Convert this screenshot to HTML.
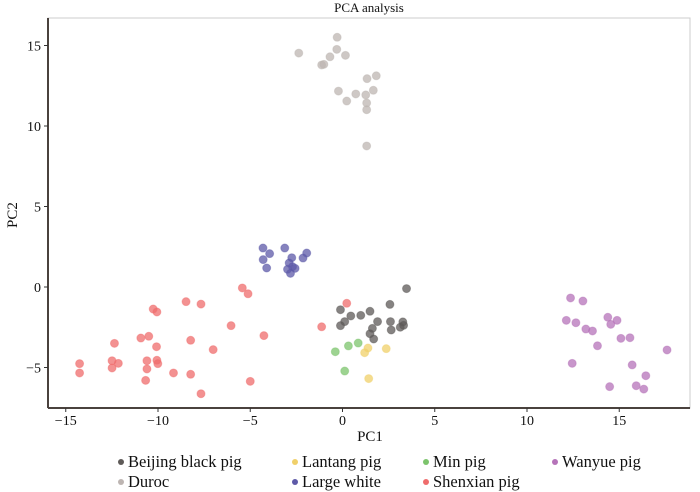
<!DOCTYPE html>
<html><head><meta charset="utf-8"><style>
body{margin:0;background:#fff;font-family:"Liberation Serif",serif;}
svg{display:block}
text{font-family:"Liberation Serif",serif;fill:#111}
</style></head><body>
<svg id="chart" width="700" height="492"></svg>
<script>
const groups = ["Beijing black pig","Lantang pig","Min pig","Wanyue pig","Duroc","Large white","Shenxian pig"];
const colors = ["#5e5a58","#f0d06a","#7cc46c","#b573b9","#bdb5b2","#5e5aa8","#ef6c6c"];
const beijingX=[3.47,2.57,-0.11,0.45,0.99,1.49,0.12,-0.11,1.90,1.62,1.49,1.69,2.60,2.64,3.27,3.31,3.13];
const beijingY=[-0.1,-1.08,-1.41,-1.80,-1.76,-1.51,-2.15,-2.40,-2.15,-2.57,-2.90,-3.23,-2.15,-2.67,-2.17,-2.38,-2.50];
const lantangX=[1.38,1.20,2.37,1.42];
const lantangY=[-3.79,-4.08,-3.83,-5.69];
const minX=[-0.39,0.32,0.85,0.12];
const minY=[-4.02,-3.66,-3.48,-5.22];
const wanyueX=[12.36,13.03,12.13,12.65,13.19,13.55,14.38,14.88,14.54,13.82,15.09,15.58,17.59,12.45,15.70,16.44,14.48,15.92,16.33];
const wanyueY=[-0.68,-0.87,-2.07,-2.22,-2.61,-2.73,-1.88,-2.07,-2.32,-3.65,-3.19,-3.15,-3.91,-4.74,-4.84,-5.51,-6.19,-6.13,-6.34];
const durocX=[-0.29,-2.37,-0.31,-0.68,0.16,-1.13,-1.01,1.33,1.83,-0.22,0.72,1.26,1.67,0.23,1.31,1.31,1.31];
const durocY=[15.51,14.53,14.76,14.30,14.39,13.79,13.83,12.94,13.12,12.17,11.99,11.93,12.22,11.55,11.43,11.01,8.76];
const largeX=[-4.31,-3.95,-3.13,-4.30,-4.11,-2.75,-1.94,-2.14,-2.89,-2.71,-2.98,-2.57,-2.82];
const largeY=[2.42,2.07,2.42,1.70,1.18,1.82,2.11,1.80,1.49,1.26,1.10,1.16,0.85];
const shenX=[-14.25,-14.25,-12.36,-12.49,-12.15,-12.49,-10.93,-10.50,-10.08,-10.60,-10.06,-10.01,-10.60,-10.67,-10.26,-10.06,-8.48,-7.67,-8.23,-7.01,-9.16,-8.23,-7.67,-6.04,-5.43,-5.12,-4.26,-5.00,-1.13,0.23];
const shenY=[-4.76,-5.34,-3.50,-4.58,-4.74,-5.03,-3.17,-3.06,-3.71,-4.58,-4.55,-4.76,-5.09,-5.80,-1.37,-1.55,-0.91,-1.06,-3.31,-3.89,-5.34,-5.42,-6.63,-2.40,-0.06,-0.42,-3.02,-5.86,-2.47,-1.01];
const xTicks=[-15,-10,-5,0,5,10,15];
const yTicks=[-5,0,5,10,15];

const NS="http://www.w3.org/2000/svg";
const svg=document.getElementById('chart');
const L=48,R=690,T=18,B=408;
function sx(v){return 342.5+v*18.45;}
function sy(v){return 287-v*16.1;}
function mk(tag,attrs,parent){const e=document.createElementNS(NS,tag);for(const k in attrs)e.setAttribute(k,attrs[k]);(parent||svg).appendChild(e);return e;}

const frame=mk('rect',{x:L,y:T,width:R-L,height:B-T,fill:'none',stroke:'#ccc','stroke-width':1});


const la=mk('line',{x1:L,y1:T,x2:L,y2:B,stroke:'#4a423e','stroke-width':2});


const ba=mk('line',{x1:L,y1:B,x2:R,y2:B,stroke:'#4a423e','stroke-width':2});



xTicks.forEach(v=>{
  const t=mk('line',{x1:sx(v),y1:B,x2:sx(v),y2:B+4,stroke:'#333'});
  
  
  const l=mk('text',{x:sx(v),y:B+17,'text-anchor':'middle','font-size':14});
  l.textContent=(v<0?'\u2212'+(-v):v);
  
  
});
yTicks.forEach(v=>{
  const t=mk('line',{x1:L-4,y1:sy(v),x2:L,y2:sy(v),stroke:'#333'});
  
  
  const l=mk('text',{x:L-7,y:sy(v)+5,'text-anchor':'end','font-size':14});
  l.textContent=(v<0?'\u2212'+(-v):v);
  
  
});
const title=mk('text',{x:369,y:12,'text-anchor':'middle','font-size':13});
title.textContent='PCA analysis';


const xt=mk('text',{x:370,y:441,'text-anchor':'middle','font-size':15});
xt.textContent='PC1';


const yt=mk('text',{x:17,y:215,'text-anchor':'middle','font-size':15,transform:'rotate(-90 17 215)'});
yt.textContent='PC2';



const series=[[beijingX,beijingY],[lantangX,lantangY],[minX,minY],[wanyueX,wanyueY],[durocX,durocY],[largeX,largeY],[shenX,shenY]];
const names=['beijing','lantang','min','wanyue','duroc','large-white','shenxian'];
series.forEach((s,gi)=>{
  const g=mk('g',{});
  
  
  s[0].forEach((x,i)=>{
    const c=mk('circle',{cx:sx(x),cy:sy(s[1][i]),r:4,fill:colors[gi],'fill-opacity':0.75,stroke:colors[gi],'stroke-opacity':0.45,'stroke-width':1},g);
    
    
  });
});

const legPos=[[121,462],[295,462],[426,462],[555,462],[121,482],[295,482],[426,482]];
groups.forEach((n,i)=>{
  const g=mk('g',{});
  
  
  mk('circle',{cx:legPos[i][0],cy:legPos[i][1],r:3,fill:colors[i]},g);
  const t=mk('text',{x:legPos[i][0]+7,y:legPos[i][1]+5,'font-size':16.5},g);
  t.textContent=n;
});
</script>
</body></html>
